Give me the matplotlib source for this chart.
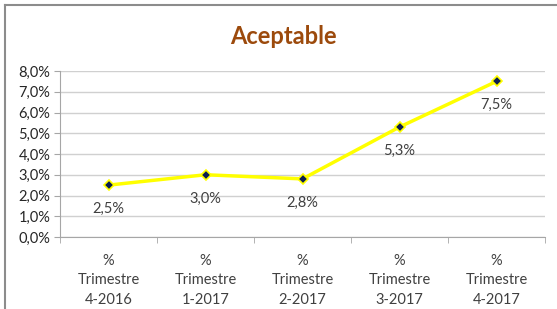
import numpy as np
import matplotlib.pyplot as plt
from matplotlib.lines import Line2D

categorias = ["%\nTrimestre\n4-2016", "%\nTrimestre\n1-2017", "%\nTrimestre\n2-2017",
              "%\nTrimestre\n3-2017", "%\nTrimestre\n4-2017"]
valores = [2.5, 3.0, 2.8, 5.3, 7.5]
etiquetas = ["2,5%", "3,0%", "2,8%", "5,3%", "7,5%"]
yticks = np.arange(0, 9, 1)

plt.rcParams['font.family'] = ['Lato', 'DejaVu Sans']

fig = plt.figure(figsize=(5.57, 3.09), dpi=100)
# marco del gráfico: solo arriba e izquierda visibles
fig.lines.append(Line2D([5 / 557, 1], [1 - 5 / 309, 1 - 5 / 309], transform=fig.transFigure,
                        color="#8c8c8c", linewidth=1.5))
fig.lines.append(Line2D([5 / 557, 5 / 557], [0, 1 - 5 / 309], transform=fig.transFigure,
                        color="#8c8c8c", linewidth=1.5))
ax = fig.add_axes([60 / 557, 1 - 237 / 309, 485 / 557, 166 / 309])

x = np.arange(len(valores))
ax.plot(x, valores, color="#FFFF00", linewidth=2.5, zorder=3)
ax.plot(x, valores, linestyle="none", marker="D", markersize=5.5,
        markerfacecolor="#0B1E50", markeredgecolor="#FFFF00", markeredgewidth=1.2, zorder=4)
for xi, v, t in zip(x, valores, etiquetas):
    ax.annotate(t, (xi, v), xytext=(0, -12), textcoords="offset points",
                ha="center", va="top", fontsize=10.5, color="#404040")

ax.set_xlim(-0.5, len(valores) - 0.5)
ax.set_ylim(0, 8)
ax.set_yticks(yticks)
ax.set_yticklabels([f"{v:.1f}%".replace(".", ",") for v in yticks], fontsize=10.5, color="#262626")
ax.set_xticks(x)
ax.set_xticklabels(categorias, fontsize=10.5, color="#404040", linespacing=1.5)
ax.set_xticks(np.arange(-0.5, len(valores)), minor=True)
ax.tick_params(axis="x", which="major", length=0, pad=12)
ax.tick_params(axis="x", which="minor", length=4, color="#a6a6a6")
ax.tick_params(axis="y", length=4, color="#a6a6a6", pad=3)
ax.grid(axis="y", color="#d0d0d0", linewidth=1)
ax.set_axisbelow(True)
for s in ["top", "right"]:
    ax.spines[s].set_visible(False)
for s in ["left", "bottom"]:
    ax.spines[s].set_color("#a6a6a6")

fig.text(283 / 557, 1 - 36 / 309, "Aceptable", ha="center", va="center",
         fontsize=17, fontweight="bold", color="#9C4A0C")

fig.savefig("out.png", dpi=100)
